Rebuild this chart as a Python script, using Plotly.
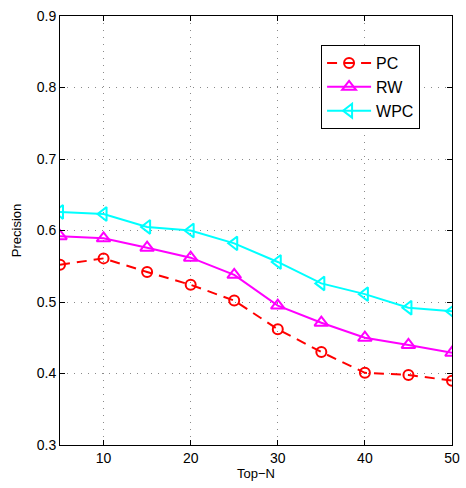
import plotly.graph_objects as go

# Top-N precision for three ranking methods
top_n = [5, 10, 15, 20, 25, 30, 35, 40, 45, 50]
pc = [0.552, 0.561, 0.542, 0.524, 0.502, 0.462, 0.430, 0.401, 0.398, 0.390]
rw = [0.592, 0.589, 0.576, 0.562, 0.538, 0.495, 0.471, 0.450, 0.440, 0.429]
wpc = [0.626, 0.623, 0.605, 0.600, 0.582, 0.556, 0.526, 0.511, 0.492, 0.487]

x_ticks = [10, 20, 30, 40, 50]
y_ticks = [0.3, 0.4, 0.5, 0.6, 0.7, 0.8, 0.9]

font = "Liberation Sans, Arial, sans-serif"

fig = go.Figure()
fig.add_trace(go.Scatter(
    x=top_n, y=pc, name="PC", mode="lines+markers",
    line=dict(color="#ff0000", width=2, dash="10px,7px"),
    marker=dict(symbol="circle-open", size=10, color="#ff0000", line=dict(width=2)),
))
fig.add_trace(go.Scatter(
    x=top_n, y=rw, name="RW", mode="lines+markers",
    line=dict(color="#ff00ff", width=2),
    marker=dict(symbol="triangle-up-open", size=12, color="#ff00ff", line=dict(width=2)),
))
fig.add_trace(go.Scatter(
    x=top_n, y=wpc, name="WPC", mode="lines+markers",
    line=dict(color="#00ffff", width=2),
    marker=dict(symbol="triangle-left-open", size=12, color="#00ffff", line=dict(width=2)),
))

axis_common = dict(
    showline=True, linecolor="black", linewidth=1, mirror="ticks",
    ticks="inside", ticklen=5, tickcolor="black",
    showgrid=True, gridcolor="#8a8a8a", griddash="1px,6px", gridwidth=1,
    zeroline=False, automargin=False,
    tickfont=dict(family=font, size=14, color="black"),
)

fig.update_layout(
    width=466, height=488,
    margin=dict(l=60, r=14, t=16, b=43),
    paper_bgcolor="white", plot_bgcolor="white",
    font=dict(family=font, size=14, color="black"),
    xaxis=dict(range=[5, 50], tickvals=x_ticks,
               title=dict(text="Top\u2212N", font=dict(size=13), standoff=4),
               **axis_common),
    yaxis=dict(range=[0.3, 0.9], tickvals=y_ticks, tickformat=".1f",
               title=dict(text="Precision", font=dict(size=13), standoff=12),
               **axis_common),
    legend=dict(x=0.666, y=0.932, xanchor="left", yanchor="top",
                bgcolor="white", bordercolor="black", borderwidth=1,
                font=dict(family=font, size=16), tracegroupgap=0,
                itemwidth=44),
    showlegend=True,
)

fig.write_html("out.html")
